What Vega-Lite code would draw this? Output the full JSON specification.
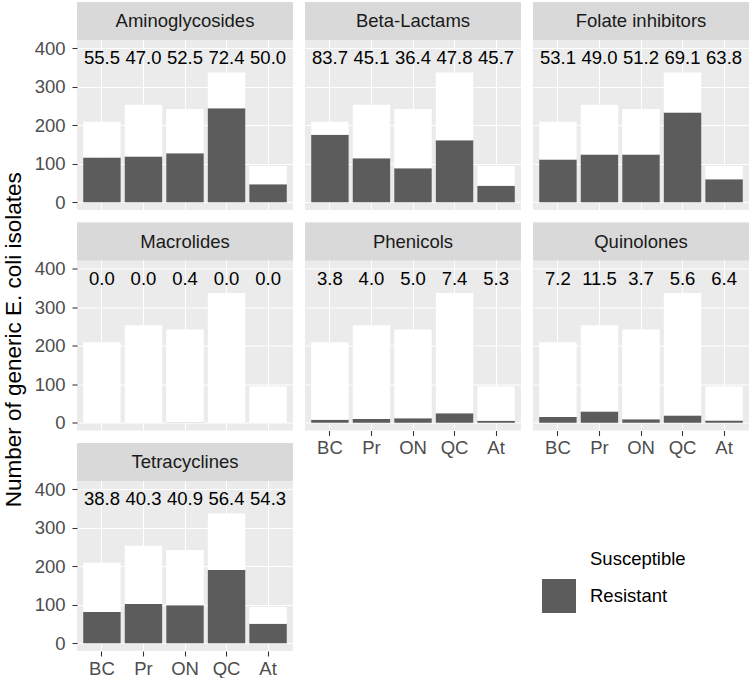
{
  "$schema": "https://vega.github.io/schema/vega-lite/v6.json",
  "padding": {"left": 2, "top": 2, "right": 0, "bottom": 0},
  "background": "white",
  "title": {"text": "Number of generic E. coli isolates", "orient": "left", "anchor": "middle", "frame": "bounds", "fontSize": 22.5, "fontWeight": "normal", "font": "Liberation Sans", "color": "black", "offset": 9},
  "data": {"values": [
    {"cls": "Aminoglycosides", "site": "BC", "status": "Resistant", "n": 116, "pct": 55.5},
    {"cls": "Aminoglycosides", "site": "BC", "status": "Susceptible", "n": 93, "pct": 55.5},
    {"cls": "Aminoglycosides", "site": "Pr", "status": "Resistant", "n": 119, "pct": 47.0},
    {"cls": "Aminoglycosides", "site": "Pr", "status": "Susceptible", "n": 134, "pct": 47.0},
    {"cls": "Aminoglycosides", "site": "ON", "status": "Resistant", "n": 127, "pct": 52.5},
    {"cls": "Aminoglycosides", "site": "ON", "status": "Susceptible", "n": 115, "pct": 52.5},
    {"cls": "Aminoglycosides", "site": "QC", "status": "Resistant", "n": 244, "pct": 72.4},
    {"cls": "Aminoglycosides", "site": "QC", "status": "Susceptible", "n": 93, "pct": 72.4},
    {"cls": "Aminoglycosides", "site": "At", "status": "Resistant", "n": 47, "pct": 50.0},
    {"cls": "Aminoglycosides", "site": "At", "status": "Susceptible", "n": 47, "pct": 50.0},
    {"cls": "Beta-Lactams", "site": "BC", "status": "Resistant", "n": 175, "pct": 83.7},
    {"cls": "Beta-Lactams", "site": "BC", "status": "Susceptible", "n": 34, "pct": 83.7},
    {"cls": "Beta-Lactams", "site": "Pr", "status": "Resistant", "n": 114, "pct": 45.1},
    {"cls": "Beta-Lactams", "site": "Pr", "status": "Susceptible", "n": 139, "pct": 45.1},
    {"cls": "Beta-Lactams", "site": "ON", "status": "Resistant", "n": 88, "pct": 36.4},
    {"cls": "Beta-Lactams", "site": "ON", "status": "Susceptible", "n": 154, "pct": 36.4},
    {"cls": "Beta-Lactams", "site": "QC", "status": "Resistant", "n": 161, "pct": 47.8},
    {"cls": "Beta-Lactams", "site": "QC", "status": "Susceptible", "n": 176, "pct": 47.8},
    {"cls": "Beta-Lactams", "site": "At", "status": "Resistant", "n": 43, "pct": 45.7},
    {"cls": "Beta-Lactams", "site": "At", "status": "Susceptible", "n": 51, "pct": 45.7},
    {"cls": "Folate inhibitors", "site": "BC", "status": "Resistant", "n": 111, "pct": 53.1},
    {"cls": "Folate inhibitors", "site": "BC", "status": "Susceptible", "n": 98, "pct": 53.1},
    {"cls": "Folate inhibitors", "site": "Pr", "status": "Resistant", "n": 124, "pct": 49.0},
    {"cls": "Folate inhibitors", "site": "Pr", "status": "Susceptible", "n": 129, "pct": 49.0},
    {"cls": "Folate inhibitors", "site": "ON", "status": "Resistant", "n": 124, "pct": 51.2},
    {"cls": "Folate inhibitors", "site": "ON", "status": "Susceptible", "n": 118, "pct": 51.2},
    {"cls": "Folate inhibitors", "site": "QC", "status": "Resistant", "n": 233, "pct": 69.1},
    {"cls": "Folate inhibitors", "site": "QC", "status": "Susceptible", "n": 104, "pct": 69.1},
    {"cls": "Folate inhibitors", "site": "At", "status": "Resistant", "n": 60, "pct": 63.8},
    {"cls": "Folate inhibitors", "site": "At", "status": "Susceptible", "n": 34, "pct": 63.8},
    {"cls": "Macrolides", "site": "BC", "status": "Resistant", "n": 0, "pct": 0.0},
    {"cls": "Macrolides", "site": "BC", "status": "Susceptible", "n": 209, "pct": 0.0},
    {"cls": "Macrolides", "site": "Pr", "status": "Resistant", "n": 0, "pct": 0.0},
    {"cls": "Macrolides", "site": "Pr", "status": "Susceptible", "n": 253, "pct": 0.0},
    {"cls": "Macrolides", "site": "ON", "status": "Resistant", "n": 1, "pct": 0.4},
    {"cls": "Macrolides", "site": "ON", "status": "Susceptible", "n": 241, "pct": 0.4},
    {"cls": "Macrolides", "site": "QC", "status": "Resistant", "n": 0, "pct": 0.0},
    {"cls": "Macrolides", "site": "QC", "status": "Susceptible", "n": 337, "pct": 0.0},
    {"cls": "Macrolides", "site": "At", "status": "Resistant", "n": 0, "pct": 0.0},
    {"cls": "Macrolides", "site": "At", "status": "Susceptible", "n": 94, "pct": 0.0},
    {"cls": "Phenicols", "site": "BC", "status": "Resistant", "n": 8, "pct": 3.8},
    {"cls": "Phenicols", "site": "BC", "status": "Susceptible", "n": 201, "pct": 3.8},
    {"cls": "Phenicols", "site": "Pr", "status": "Resistant", "n": 10, "pct": 4.0},
    {"cls": "Phenicols", "site": "Pr", "status": "Susceptible", "n": 243, "pct": 4.0},
    {"cls": "Phenicols", "site": "ON", "status": "Resistant", "n": 12, "pct": 5.0},
    {"cls": "Phenicols", "site": "ON", "status": "Susceptible", "n": 230, "pct": 5.0},
    {"cls": "Phenicols", "site": "QC", "status": "Resistant", "n": 25, "pct": 7.4},
    {"cls": "Phenicols", "site": "QC", "status": "Susceptible", "n": 312, "pct": 7.4},
    {"cls": "Phenicols", "site": "At", "status": "Resistant", "n": 5, "pct": 5.3},
    {"cls": "Phenicols", "site": "At", "status": "Susceptible", "n": 89, "pct": 5.3},
    {"cls": "Quinolones", "site": "BC", "status": "Resistant", "n": 15, "pct": 7.2},
    {"cls": "Quinolones", "site": "BC", "status": "Susceptible", "n": 194, "pct": 7.2},
    {"cls": "Quinolones", "site": "Pr", "status": "Resistant", "n": 29, "pct": 11.5},
    {"cls": "Quinolones", "site": "Pr", "status": "Susceptible", "n": 224, "pct": 11.5},
    {"cls": "Quinolones", "site": "ON", "status": "Resistant", "n": 9, "pct": 3.7},
    {"cls": "Quinolones", "site": "ON", "status": "Susceptible", "n": 233, "pct": 3.7},
    {"cls": "Quinolones", "site": "QC", "status": "Resistant", "n": 19, "pct": 5.6},
    {"cls": "Quinolones", "site": "QC", "status": "Susceptible", "n": 318, "pct": 5.6},
    {"cls": "Quinolones", "site": "At", "status": "Resistant", "n": 6, "pct": 6.4},
    {"cls": "Quinolones", "site": "At", "status": "Susceptible", "n": 88, "pct": 6.4},
    {"cls": "Tetracyclines", "site": "BC", "status": "Resistant", "n": 81, "pct": 38.8},
    {"cls": "Tetracyclines", "site": "BC", "status": "Susceptible", "n": 128, "pct": 38.8},
    {"cls": "Tetracyclines", "site": "Pr", "status": "Resistant", "n": 102, "pct": 40.3},
    {"cls": "Tetracyclines", "site": "Pr", "status": "Susceptible", "n": 151, "pct": 40.3},
    {"cls": "Tetracyclines", "site": "ON", "status": "Resistant", "n": 99, "pct": 40.9},
    {"cls": "Tetracyclines", "site": "ON", "status": "Susceptible", "n": 143, "pct": 40.9},
    {"cls": "Tetracyclines", "site": "QC", "status": "Resistant", "n": 190, "pct": 56.4},
    {"cls": "Tetracyclines", "site": "QC", "status": "Susceptible", "n": 147, "pct": 56.4},
    {"cls": "Tetracyclines", "site": "At", "status": "Resistant", "n": 51, "pct": 54.3},
    {"cls": "Tetracyclines", "site": "At", "status": "Susceptible", "n": 43, "pct": 54.3}
  ]},
  "columns": 3,
  "spacing": {"row": 12.5, "column": 12},
  "bounds": "flush",
  "resolve": {"scale": {"color": "independent"}, "legend": {"color": "independent"}},
  "concat": [
    {
      "transform": [{"filter": "datum.cls === 'Aminoglycosides'"}],
      "width": 216, "height": 208,
      "encoding": {"x": {"field": "site", "type": "nominal", "sort": ["BC", "Pr", "ON", "QC", "At"], "scale": {"paddingInner": 0.1, "paddingOuter": 0.15},
        "axis": {"title": null, "labels": false, "ticks": false, "grid": true, "bandPosition": 0.5}}},
      "layer": [
        {"mark": "bar", "encoding": {
          "y": {"field": "n", "type": "quantitative", "stack": "zero", "scale": {"domain": [-20, 519.6], "nice": false, "zero": false},
            "axis": {"title": null, "values": [0, 50, 100, 150, 200, 250, 300, 350, 400], "labelExpr": "datum.value % 100 === 0 ? datum.label : ''", "tickOpacity": {"condition": {"test": "datum.value % 100 !== 0", "value": 0}, "value": 1}, "gridWidth": {"condition": {"test": "datum.value % 100 === 0", "value": 1.07}, "value": 0.53}}},
          "color": {"field": "status", "type": "nominal", "scale": {"domain": ["Susceptible", "Resistant"], "range": ["#FFFFFF", "#5C5C5C"]}, "legend": null},
          "order": {"field": "status", "sort": "ascending"}}},
        {"transform": [{"filter": "datum.status === 'Resistant'"}], "mark": {"type": "text", "fontSize": 18.5, "color": "black", "baseline": "middle"},
          "encoding": {"y": {"datum": 374}, "text": {"field": "pct", "type": "quantitative", "format": ".1f"}}},
        {"transform": [{"filter": "datum.status === 'Resistant' && datum.site === 'BC'"}], "mark": {"type": "rect", "color": "#D9D9D9"},
          "encoding": {"x": null, "y": {"datum": 421}, "y2": {"datum": 519.6}}},
        {"transform": [{"filter": "datum.status === 'Resistant' && datum.site === 'BC'"}], "mark": {"type": "text", "fontSize": 18.5, "color": "#1A1A1A", "baseline": "middle"},
          "encoding": {"x": null, "y": {"datum": 470}, "text": {"field": "cls", "type": "nominal"}}}
      ]
    },
    {
      "transform": [{"filter": "datum.cls === 'Beta-Lactams'"}],
      "width": 216, "height": 208,
      "encoding": {"x": {"field": "site", "type": "nominal", "sort": ["BC", "Pr", "ON", "QC", "At"], "scale": {"paddingInner": 0.1, "paddingOuter": 0.15},
        "axis": {"title": null, "labels": false, "ticks": false, "grid": true, "bandPosition": 0.5}}},
      "layer": [
        {"mark": "bar", "encoding": {
          "y": {"field": "n", "type": "quantitative", "stack": "zero", "scale": {"domain": [-20, 519.6], "nice": false, "zero": false},
            "axis": {"title": null, "labels": false, "ticks": false, "values": [0, 50, 100, 150, 200, 250, 300, 350, 400], "gridWidth": {"condition": {"test": "datum.value % 100 === 0", "value": 1.07}, "value": 0.53}}},
          "color": {"field": "status", "type": "nominal", "scale": {"domain": ["Susceptible", "Resistant"], "range": ["#FFFFFF", "#5C5C5C"]}, "legend": null},
          "order": {"field": "status", "sort": "ascending"}}},
        {"transform": [{"filter": "datum.status === 'Resistant'"}], "mark": {"type": "text", "fontSize": 18.5, "color": "black", "baseline": "middle"},
          "encoding": {"y": {"datum": 374}, "text": {"field": "pct", "type": "quantitative", "format": ".1f"}}},
        {"transform": [{"filter": "datum.status === 'Resistant' && datum.site === 'BC'"}], "mark": {"type": "rect", "color": "#D9D9D9"},
          "encoding": {"x": null, "y": {"datum": 421}, "y2": {"datum": 519.6}}},
        {"transform": [{"filter": "datum.status === 'Resistant' && datum.site === 'BC'"}], "mark": {"type": "text", "fontSize": 18.5, "color": "#1A1A1A", "baseline": "middle"},
          "encoding": {"x": null, "y": {"datum": 470}, "text": {"field": "cls", "type": "nominal"}}}
      ]
    },
    {
      "transform": [{"filter": "datum.cls === 'Folate inhibitors'"}],
      "width": 216, "height": 208,
      "encoding": {"x": {"field": "site", "type": "nominal", "sort": ["BC", "Pr", "ON", "QC", "At"], "scale": {"paddingInner": 0.1, "paddingOuter": 0.15},
        "axis": {"title": null, "labels": false, "ticks": false, "grid": true, "bandPosition": 0.5}}},
      "layer": [
        {"mark": "bar", "encoding": {
          "y": {"field": "n", "type": "quantitative", "stack": "zero", "scale": {"domain": [-20, 519.6], "nice": false, "zero": false},
            "axis": {"title": null, "labels": false, "ticks": false, "values": [0, 50, 100, 150, 200, 250, 300, 350, 400], "gridWidth": {"condition": {"test": "datum.value % 100 === 0", "value": 1.07}, "value": 0.53}}},
          "color": {"field": "status", "type": "nominal", "scale": {"domain": ["Susceptible", "Resistant"], "range": ["#FFFFFF", "#5C5C5C"]}, "legend": null},
          "order": {"field": "status", "sort": "ascending"}}},
        {"transform": [{"filter": "datum.status === 'Resistant'"}], "mark": {"type": "text", "fontSize": 18.5, "color": "black", "baseline": "middle"},
          "encoding": {"y": {"datum": 374}, "text": {"field": "pct", "type": "quantitative", "format": ".1f"}}},
        {"transform": [{"filter": "datum.status === 'Resistant' && datum.site === 'BC'"}], "mark": {"type": "rect", "color": "#D9D9D9"},
          "encoding": {"x": null, "y": {"datum": 421}, "y2": {"datum": 519.6}}},
        {"transform": [{"filter": "datum.status === 'Resistant' && datum.site === 'BC'"}], "mark": {"type": "text", "fontSize": 18.5, "color": "#1A1A1A", "baseline": "middle"},
          "encoding": {"x": null, "y": {"datum": 470}, "text": {"field": "cls", "type": "nominal"}}}
      ]
    },
    {
      "transform": [{"filter": "datum.cls === 'Macrolides'"}],
      "width": 216, "height": 208,
      "encoding": {"x": {"field": "site", "type": "nominal", "sort": ["BC", "Pr", "ON", "QC", "At"], "scale": {"paddingInner": 0.1, "paddingOuter": 0.15},
        "axis": {"title": null, "labels": false, "ticks": false, "grid": true, "bandPosition": 0.5}}},
      "layer": [
        {"mark": "bar", "encoding": {
          "y": {"field": "n", "type": "quantitative", "stack": "zero", "scale": {"domain": [-20, 519.6], "nice": false, "zero": false},
            "axis": {"title": null, "values": [0, 50, 100, 150, 200, 250, 300, 350, 400], "labelExpr": "datum.value % 100 === 0 ? datum.label : ''", "tickOpacity": {"condition": {"test": "datum.value % 100 !== 0", "value": 0}, "value": 1}, "gridWidth": {"condition": {"test": "datum.value % 100 === 0", "value": 1.07}, "value": 0.53}}},
          "color": {"field": "status", "type": "nominal", "scale": {"domain": ["Susceptible", "Resistant"], "range": ["#FFFFFF", "#5C5C5C"]}, "legend": null},
          "order": {"field": "status", "sort": "ascending"}}},
        {"transform": [{"filter": "datum.status === 'Resistant'"}], "mark": {"type": "text", "fontSize": 18.5, "color": "black", "baseline": "middle"},
          "encoding": {"y": {"datum": 374}, "text": {"field": "pct", "type": "quantitative", "format": ".1f"}}},
        {"transform": [{"filter": "datum.status === 'Resistant' && datum.site === 'BC'"}], "mark": {"type": "rect", "color": "#D9D9D9"},
          "encoding": {"x": null, "y": {"datum": 421}, "y2": {"datum": 519.6}}},
        {"transform": [{"filter": "datum.status === 'Resistant' && datum.site === 'BC'"}], "mark": {"type": "text", "fontSize": 18.5, "color": "#1A1A1A", "baseline": "middle"},
          "encoding": {"x": null, "y": {"datum": 470}, "text": {"field": "cls", "type": "nominal"}}}
      ]
    },
    {
      "transform": [{"filter": "datum.cls === 'Phenicols'"}],
      "width": 216, "height": 208,
      "encoding": {"x": {"field": "site", "type": "nominal", "sort": ["BC", "Pr", "ON", "QC", "At"], "scale": {"paddingInner": 0.1, "paddingOuter": 0.15},
        "axis": {"title": null, "labelAngle": 0, "labelPadding": 3, "grid": true, "bandPosition": 0.5}}},
      "layer": [
        {"mark": "bar", "encoding": {
          "y": {"field": "n", "type": "quantitative", "stack": "zero", "scale": {"domain": [-20, 519.6], "nice": false, "zero": false},
            "axis": {"title": null, "labels": false, "ticks": false, "values": [0, 50, 100, 150, 200, 250, 300, 350, 400], "gridWidth": {"condition": {"test": "datum.value % 100 === 0", "value": 1.07}, "value": 0.53}}},
          "color": {"field": "status", "type": "nominal", "scale": {"domain": ["Susceptible", "Resistant"], "range": ["#FFFFFF", "#5C5C5C"]}, "legend": null},
          "order": {"field": "status", "sort": "ascending"}}},
        {"transform": [{"filter": "datum.status === 'Resistant'"}], "mark": {"type": "text", "fontSize": 18.5, "color": "black", "baseline": "middle"},
          "encoding": {"y": {"datum": 374}, "text": {"field": "pct", "type": "quantitative", "format": ".1f"}}},
        {"transform": [{"filter": "datum.status === 'Resistant' && datum.site === 'BC'"}], "mark": {"type": "rect", "color": "#D9D9D9"},
          "encoding": {"x": null, "y": {"datum": 421}, "y2": {"datum": 519.6}}},
        {"transform": [{"filter": "datum.status === 'Resistant' && datum.site === 'BC'"}], "mark": {"type": "text", "fontSize": 18.5, "color": "#1A1A1A", "baseline": "middle"},
          "encoding": {"x": null, "y": {"datum": 470}, "text": {"field": "cls", "type": "nominal"}}}
      ]
    },
    {
      "transform": [{"filter": "datum.cls === 'Quinolones'"}],
      "width": 216, "height": 208,
      "encoding": {"x": {"field": "site", "type": "nominal", "sort": ["BC", "Pr", "ON", "QC", "At"], "scale": {"paddingInner": 0.1, "paddingOuter": 0.15},
        "axis": {"title": null, "labelAngle": 0, "labelPadding": 3, "grid": true, "bandPosition": 0.5}}},
      "layer": [
        {"mark": "bar", "encoding": {
          "y": {"field": "n", "type": "quantitative", "stack": "zero", "scale": {"domain": [-20, 519.6], "nice": false, "zero": false},
            "axis": {"title": null, "labels": false, "ticks": false, "values": [0, 50, 100, 150, 200, 250, 300, 350, 400], "gridWidth": {"condition": {"test": "datum.value % 100 === 0", "value": 1.07}, "value": 0.53}}},
          "color": {"field": "status", "type": "nominal", "scale": {"domain": ["Susceptible", "Resistant"], "range": ["#FFFFFF", "#5C5C5C"]}, "legend": null},
          "order": {"field": "status", "sort": "ascending"}}},
        {"transform": [{"filter": "datum.status === 'Resistant'"}], "mark": {"type": "text", "fontSize": 18.5, "color": "black", "baseline": "middle"},
          "encoding": {"y": {"datum": 374}, "text": {"field": "pct", "type": "quantitative", "format": ".1f"}}},
        {"transform": [{"filter": "datum.status === 'Resistant' && datum.site === 'BC'"}], "mark": {"type": "rect", "color": "#D9D9D9"},
          "encoding": {"x": null, "y": {"datum": 421}, "y2": {"datum": 519.6}}},
        {"transform": [{"filter": "datum.status === 'Resistant' && datum.site === 'BC'"}], "mark": {"type": "text", "fontSize": 18.5, "color": "#1A1A1A", "baseline": "middle"},
          "encoding": {"x": null, "y": {"datum": 470}, "text": {"field": "cls", "type": "nominal"}}}
      ]
    },
    {
      "transform": [{"filter": "datum.cls === 'Tetracyclines'"}],
      "width": 216, "height": 208,
      "encoding": {"x": {"field": "site", "type": "nominal", "sort": ["BC", "Pr", "ON", "QC", "At"], "scale": {"paddingInner": 0.1, "paddingOuter": 0.15},
        "axis": {"title": null, "labelAngle": 0, "labelPadding": 3, "grid": true, "bandPosition": 0.5}}},
      "layer": [
        {"mark": "bar", "encoding": {
          "y": {"field": "n", "type": "quantitative", "stack": "zero", "scale": {"domain": [-20, 519.6], "nice": false, "zero": false},
            "axis": {"title": null, "values": [0, 50, 100, 150, 200, 250, 300, 350, 400], "labelExpr": "datum.value % 100 === 0 ? datum.label : ''", "tickOpacity": {"condition": {"test": "datum.value % 100 !== 0", "value": 0}, "value": 1}, "gridWidth": {"condition": {"test": "datum.value % 100 === 0", "value": 1.07}, "value": 0.53}}},
          "color": {"field": "status", "type": "nominal", "scale": {"domain": ["Susceptible", "Resistant"], "range": ["#FFFFFF", "#5C5C5C"]},
            "legend": {"orient": "none", "legendX": 465, "legendY": 99, "title": null, "symbolType": "square", "symbolSize": 1156, "symbolStrokeWidth": 0, "symbolOpacity": 1, "labelFontSize": 18.5, "labelColor": "black", "labelOffset": 14, "rowPadding": 3}},
          "order": {"field": "status", "sort": "ascending"}}},
        {"transform": [{"filter": "datum.status === 'Resistant'"}], "mark": {"type": "text", "fontSize": 18.5, "color": "black", "baseline": "middle"},
          "encoding": {"y": {"datum": 374}, "text": {"field": "pct", "type": "quantitative", "format": ".1f"}}},
        {"transform": [{"filter": "datum.status === 'Resistant' && datum.site === 'BC'"}], "mark": {"type": "rect", "color": "#D9D9D9"},
          "encoding": {"x": null, "y": {"datum": 421}, "y2": {"datum": 519.6}}},
        {"transform": [{"filter": "datum.status === 'Resistant' && datum.site === 'BC'"}], "mark": {"type": "text", "fontSize": 18.5, "color": "#1A1A1A", "baseline": "middle"},
          "encoding": {"x": null, "y": {"datum": 470}, "text": {"field": "cls", "type": "nominal"}}}
      ]
    }
  ],
  "config": {
    "font": "Liberation Sans",
    "view": {"fill": "#EBEBEB", "stroke": null},
    "axis": {"domain": false, "tickColor": "#333333", "tickSize": 5, "tickWidth": 1.07, "labelPadding": 7,
             "labelColor": "#4D4D4D", "labelFontSize": 18.5, "gridColor": "#FFFFFF", "gridWidth": 1.07}
  }
}
